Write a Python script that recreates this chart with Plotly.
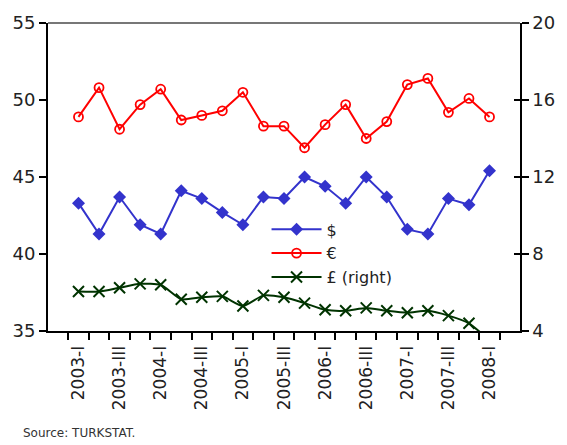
import plotly.graph_objects as go

# Quarterly categories, 2003-I to 2008-I
quarters = [f"{y}-{q}" for y in range(2003, 2009) for q in ["I", "II", "III", "IV"]][:21]
# Show every other quarter label on the axis
tick_labels = [q if i % 2 == 0 else "" for i, q in enumerate(quarters)]

usd = [43.3, 41.3, 43.7, 41.9, 41.3, 44.1, 43.6, 42.7, 41.9, 43.7, 43.6,
       45.0, 44.4, 43.3, 45.0, 43.7, 41.6, 41.3, 43.6, 43.2, 45.4]
eur = [48.9, 50.8, 48.1, 49.7, 50.7, 48.7, 49.0, 49.3, 50.5, 48.3, 48.3,
       46.9, 48.4, 49.7, 47.5, 48.6, 51.0, 51.4, 49.2, 50.1, 48.9]
gbp = [6.05, 6.05, 6.25, 6.45, 6.4, 5.65, 5.75, 5.8, 5.3, 5.85, 5.75,
       5.45, 5.1, 5.05, 5.2, 5.05, 4.95, 5.05, 4.8, 4.4, 3.5]

FONT = "DejaVu Sans"
BLUE = "#3333CC"
RED = "#FF0000"
GREEN = "#003300"

fig = go.Figure()
fig.add_trace(go.Scatter(
    x=quarters, y=usd, name="$", mode="lines+markers",
    line=dict(color=BLUE, width=2),
    marker=dict(symbol="diamond", size=10, color=BLUE),
))
fig.add_trace(go.Scatter(
    x=quarters, y=eur, name="€", mode="lines+markers",
    line=dict(color=RED, width=2),
    marker=dict(symbol="circle-open", size=9, color=RED, line=dict(width=1.8)),
))
fig.add_trace(go.Scatter(
    x=quarters, y=gbp, name="£ (right)", mode="lines+markers", yaxis="y2",
    line=dict(color=GREEN, width=2, shape="spline", smoothing=0.6),
    marker=dict(symbol="x-thin-open", size=11, color=GREEN, line=dict(width=2, color=GREEN)),
))
# empty trace so the inner right-hand tick axis is rendered
fig.add_trace(go.Scatter(
    x=[quarters[0]], y=[None], yaxis="y3", mode="lines",
    showlegend=False, hoverinfo="skip",
))

fig.update_layout(
    width=567, height=445,
    margin=dict(l=48, r=40, t=19, b=114),
    paper_bgcolor="white", plot_bgcolor="white",
    font=dict(family=FONT, size=17, color="#222222"),
    showlegend=True,
    legend=dict(
        x=0.463, y=0.385, xanchor="left", yanchor="top",
        bgcolor="rgba(0,0,0,0)", font=dict(size=16),
        tracegroupgap=0, itemwidth=50,
    ),
    xaxis=dict(
        type="category", tickmode="array", tickvals=quarters, ticktext=tick_labels,
        tickson="boundaries", ticks="outside", ticklen=7, tickwidth=1.5,
        tickcolor="black", tickangle=-90, showline=True, linecolor="black",
        linewidth=2, showgrid=False, zeroline=False, tickfont=dict(size=17),
        ticklabelstandoff=6,
    ),
    yaxis=dict(
        range=[35, 55], dtick=5, ticks="outside", ticklen=7, tickwidth=1.5,
        tickcolor="black", showline=True, linecolor="black", linewidth=2,
        showgrid=False, zeroline=False, tickfont=dict(size=18),
    ),
    yaxis2=dict(
        range=[4, 20], dtick=4, overlaying="y", side="right", ticks="outside",
        ticklen=7, tickwidth=1.5, tickcolor="black", showline=True,
        linecolor="black", linewidth=1.5, showgrid=False, zeroline=False,
        tickfont=dict(size=18),
    ),
    # inner half of the right-hand tick marks
    yaxis3=dict(
        range=[4, 20], dtick=4, overlaying="y", side="right", ticks="inside",
        ticklen=6, tickwidth=1.5, tickcolor="black", showticklabels=False,
        showline=False, showgrid=False, zeroline=False,
    ),
    shapes=[dict(type="line", xref="paper", yref="paper", x0=0, x1=1, y0=1, y1=1,
                 line=dict(color="#777777", width=2))],
    annotations=[dict(
        text="Source: TURKSTAT.", xref="paper", yref="paper",
        x=-0.058, y=-0.33, xanchor="left", yanchor="middle", showarrow=False,
        font=dict(size=12, color="#333333"),
    )],
)

fig.write_html("out.html")
